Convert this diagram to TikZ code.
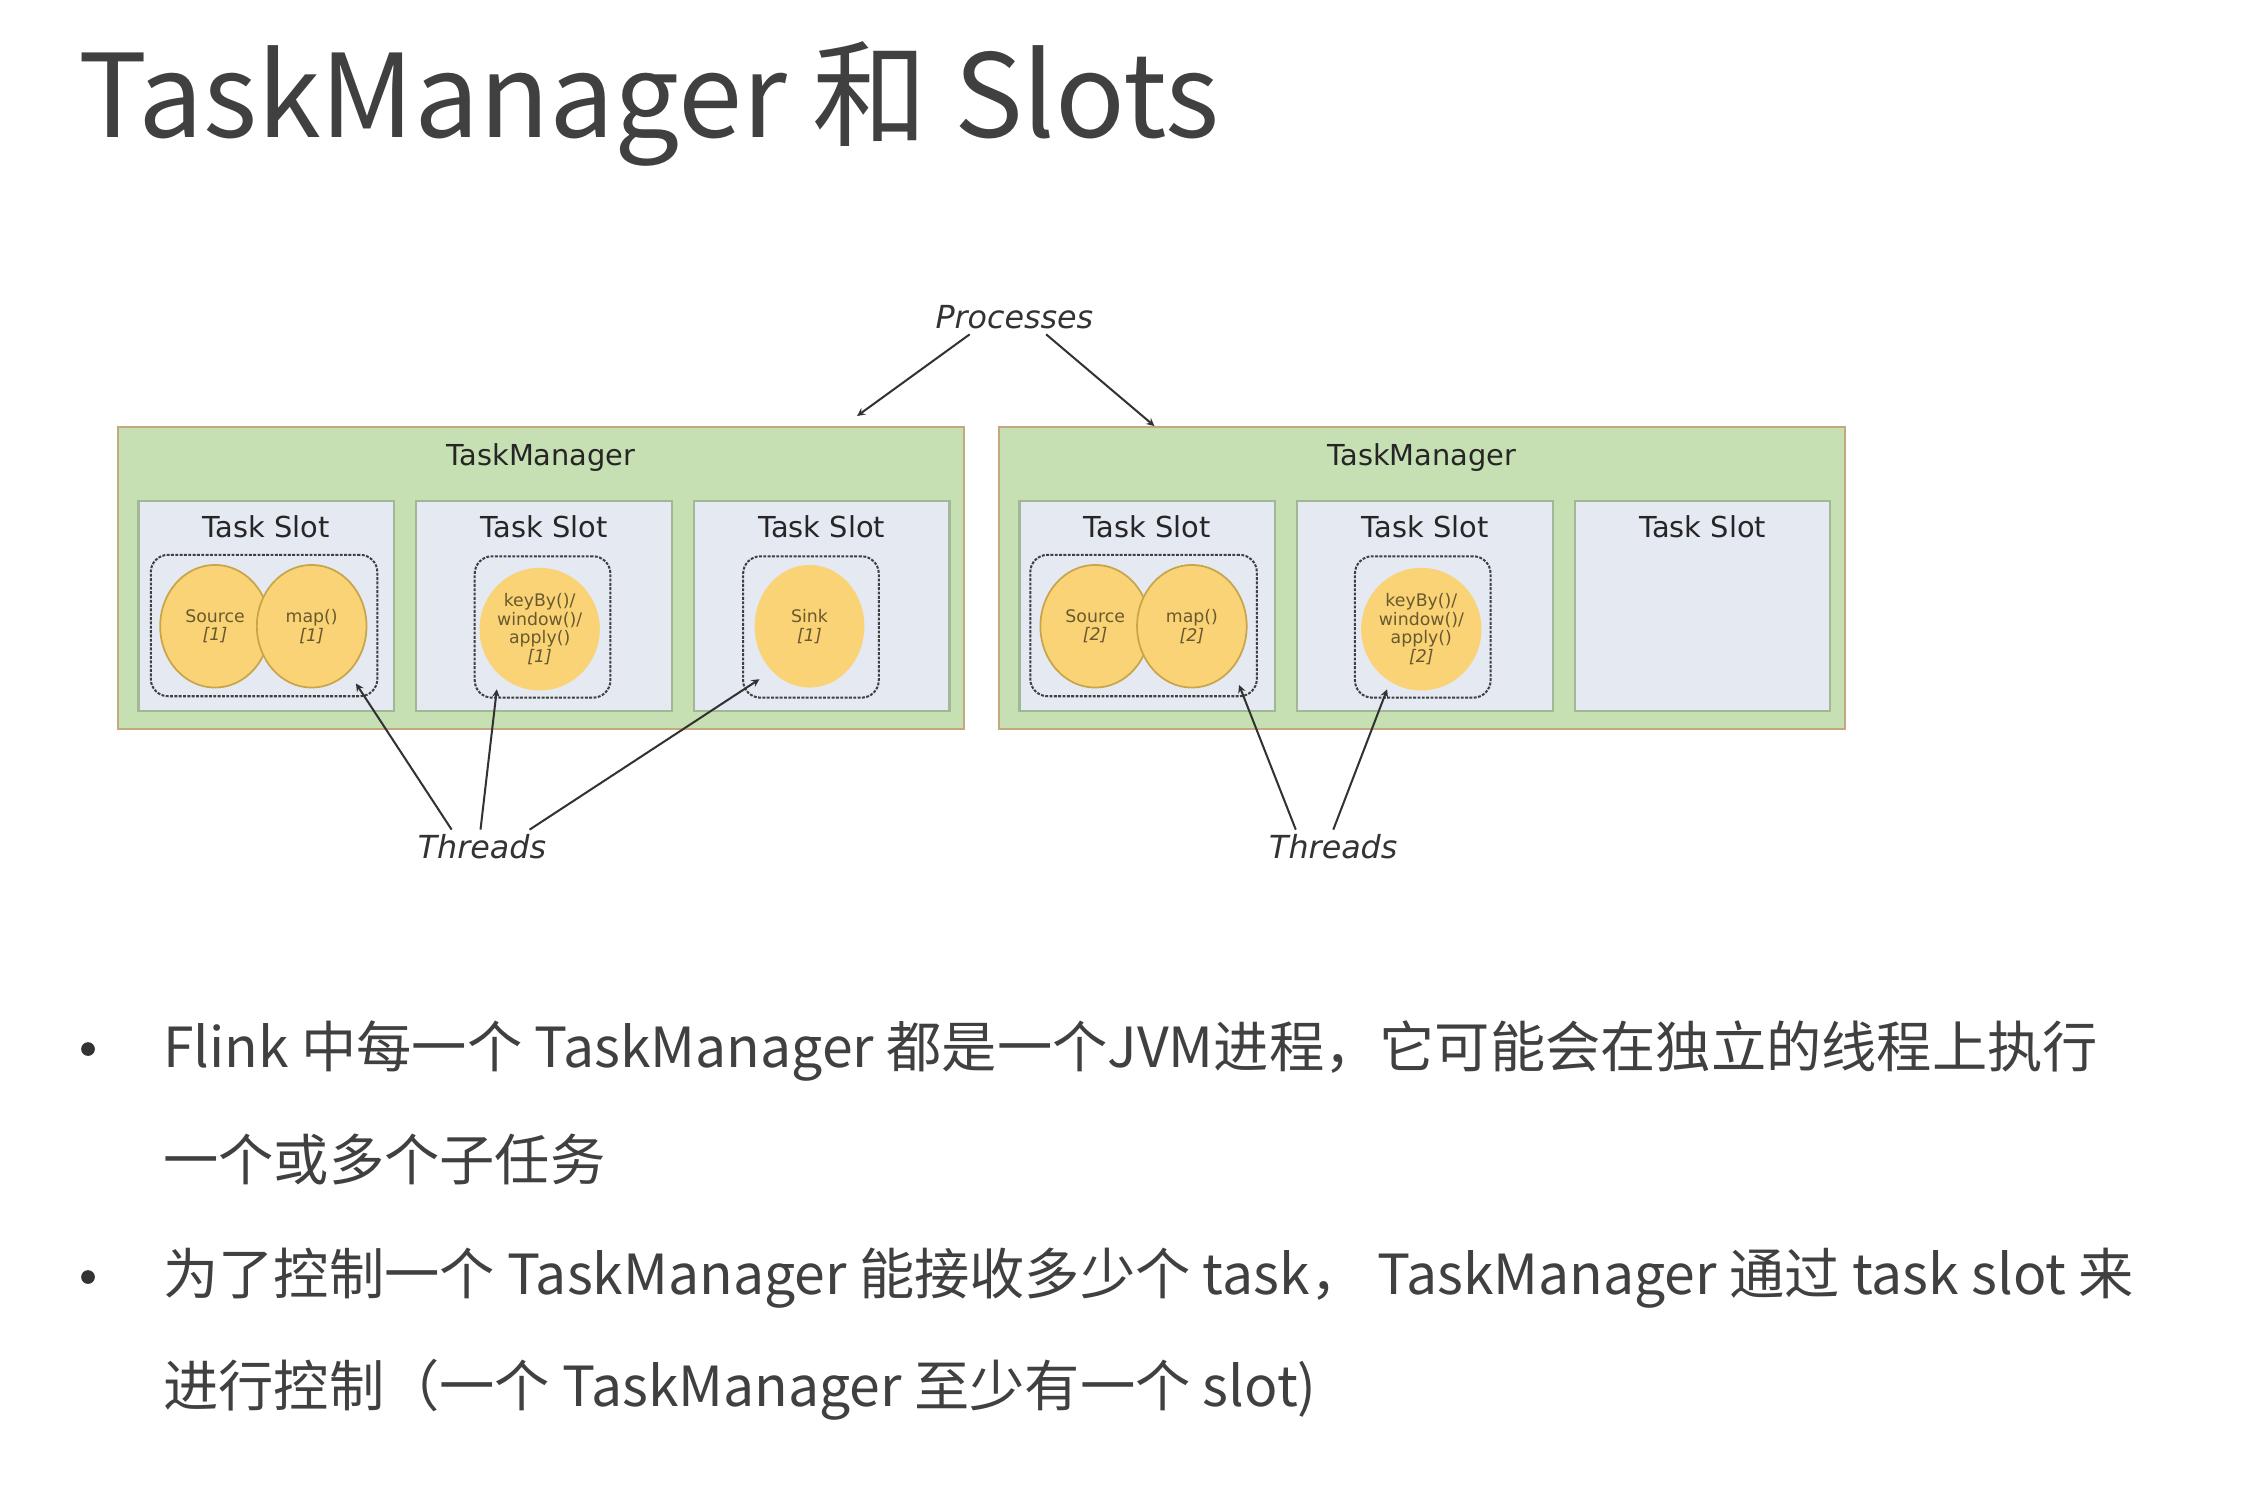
\documentclass[tikz,border=0pt]{standalone}
\usepackage{fontspec}
\setmainfont{DejaVu Sans}
\newfontfamily\cjkfont{Noto Sans CJK SC}
\usetikzlibrary{positioning}
\usetikzlibrary{arrows}
\usetikzlibrary{shapes.geometric,calc}
\definecolor{tmgreen}{RGB}{198,224,180}
\definecolor{tmborder}{RGB}{196,168,128}
\definecolor{slotfill}{RGB}{228,233,242}
\definecolor{slotborder}{RGB}{160,184,150}
\definecolor{opfill}{RGB}{249,211,118}
\definecolor{opborder}{RGB}{200,165,75}
\definecolor{optext}{RGB}{105,90,45}
\definecolor{textgray}{RGB}{64,64,64}
\definecolor{arrowgray}{RGB}{50,50,50}
\tikzset{
  tmbox/.style={draw=tmborder, fill=tmgreen, line width=1.5pt,
    minimum width=586pt, minimum height=209pt, inner sep=0pt},
  slotbox/.style={draw=slotborder, fill=slotfill, line width=1.5pt,
    minimum width=177pt, minimum height=146pt, inner sep=0pt},
  groupbox/.style={draw=black!75, dash pattern=on 2pt off 1pt, line width=1.4pt,
    rounded corners=12pt, minimum height=98pt, inner sep=0pt},
  opnode/.style={ellipse, fill=opfill, minimum width=76pt, minimum height=85pt,
    inner sep=0pt, align=center, text=optext, font=\fontsize{12}{13}\selectfont},
  boxlabel/.style={text=black!85, font=\fontsize{20}{24}\selectfont},
  note/.style={text=black!80, font=\fontsize{22}{26}\selectfont\itshape},
  pointer/.style={-stealth, line width=1.4pt, draw=arrowgray},
  bullettext/.style={anchor=base west, inner sep=0pt, text=textgray,
    font=\cjkfont\fontsize{38.3}{40}\selectfont},
  bulletdot/.style={circle, fill=textgray!80!black, minimum size=9.5pt, inner sep=0pt}
}
\begin{document}
\begin{tikzpicture}[x=1pt, y=-1pt]
\fill[white] (0,0) rectangle (1569,1045);
\useasboundingbox (0,0) rectangle (1569,1045);

% Title
\node[anchor=base west, inner sep=0pt, text=textgray,
    font=\cjkfont\fontsize{80}{90}\selectfont
    ] (title) at (54,95.6) {TaskManager 和 Slots};

% Left TaskManager
\node[tmbox] (tmA) at (375,400.5) {};
\node[boxlabel, anchor=base] (tmAlab) at ($(tmA.north)+(0,27)$) {TaskManager};

% Right TaskManager
\node[tmbox] (tmB) at (985.5,400.5) {};
\node[boxlabel, anchor=base] (tmBlab) at ($(tmB.north)+(0,27)$) {TaskManager};

% Task slots
\node[slotbox] (slotA1) at (184.5,420) {};
\node[slotbox, right=14pt of slotA1] (slotA2) {};
\node[slotbox, right=14pt of slotA2] (slotA3) {};
\node[slotbox] (slotB1) at (795,420) {};
\node[slotbox, right=14pt of slotB1] (slotB2) {};
\node[slotbox, right=14pt of slotB2] (slotB3) {};

\node[boxlabel, anchor=base] (slotA1lab) at ($(slotA1.north)+(0,26)$) {Task Slot};
\node[boxlabel, anchor=base] (slotA2lab) at ($(slotA2.north)+(0,26)$) {Task Slot};
\node[boxlabel, anchor=base] (slotA3lab) at ($(slotA3.north)+(0,26)$) {Task Slot};
\node[boxlabel, anchor=base] (slotB1lab) at ($(slotB1.north)+(0,26)$) {Task Slot};
\node[boxlabel, anchor=base] (slotB2lab) at ($(slotB2.north)+(0,26)$) {Task Slot};
\node[boxlabel, anchor=base] (slotB3lab) at ($(slotB3.north)+(0,26)$) {Task Slot};

% Thread groups
\node[groupbox, minimum width=157pt] (grpA1) at (183,433.5) {};
\node[groupbox, minimum width=94pt] (grpA2) at (376,434.5) {};
\node[groupbox, minimum width=94pt] (grpA3) at (562,434.5) {};
\node[groupbox, minimum width=157pt] (grpB1) at (792.5,433.5) {};
\node[groupbox, minimum width=94pt] (grpB2) at (986,434.5) {};

% Operators
\node[opnode, draw=opborder, line width=1.2pt] (srcA) at (149,434) {Source\\\textit{[1]}};
\node[opnode, draw=opborder, line width=1.2pt] (mapA) at (216,434) {map()\\\textit{[1]}};
\node[opnode] (keyA) at (374,436) {keyBy()/\\window()/\\apply()\\\textit{[1]}};
\node[opnode] (sinkA) at (561,434) {Sink\\\textit{[1]}};
\node[opnode, draw=opborder, line width=1.2pt] (srcB) at (759,434) {Source\\\textit{[2]}};
\node[opnode, draw=opborder, line width=1.2pt] (mapB) at (826,434) {map()\\\textit{[2]}};
\node[opnode] (keyB) at (985,436) {keyBy()/\\window()/\\apply()\\\textit{[2]}};

% Processes
\node[note] (proc) at (703,220) {Processes};
\draw[pointer] ([xshift=-31pt]proc.south) -- ($(tmA.north)+(219,-7)$);
\draw[pointer] ([xshift=22pt]proc.south) -- ($(tmB.north)+(-185.5,0)$);

% Threads
\node[note] (thrA) at (334,587) {Threads};
\draw[pointer] ([xshift=-21pt]thrA.north) -- ($(grpA1.south east)+(-15.5,-9.5)$);
\draw[pointer] ([xshift=-1pt]thrA.north) -- ($(grpA2.south west)+(16,-6.5)$);
\draw[pointer] ([xshift=33pt]thrA.north) -- ($(grpA3.south west)+(12,-13.5)$);

\node[note] (thrB) at (924,587) {Threads};
\draw[pointer] ([xshift=-26pt]thrB.north) -- ($(grpB1.south east)+(-13,-8.5)$);
\draw[pointer] (thrB.north) -- ($(grpB2.south west)+(23,-6.5)$);

% Bullet points
\node[bulletdot] (bulA) at (61,727) {};
\node[bullettext] (lineA) at (113,740) {Flink 中每一个 TaskManager 都是一个JVM进程，它可能会在独立的线程上执行};
\node[bullettext] (lineB) at (113,818) {一个或多个子任务};
\node[bulletdot] (bulB) at (61,885) {};
\node[bullettext] (lineC) at (113,897) {为了控制一个 TaskManager 能接收多少个 task， TaskManager 通过 task slot 来};
\node[bullettext] (lineD) at (113,975) {进行控制（一个 TaskManager 至少有一个 slot)};

\end{tikzpicture}
\end{document}
